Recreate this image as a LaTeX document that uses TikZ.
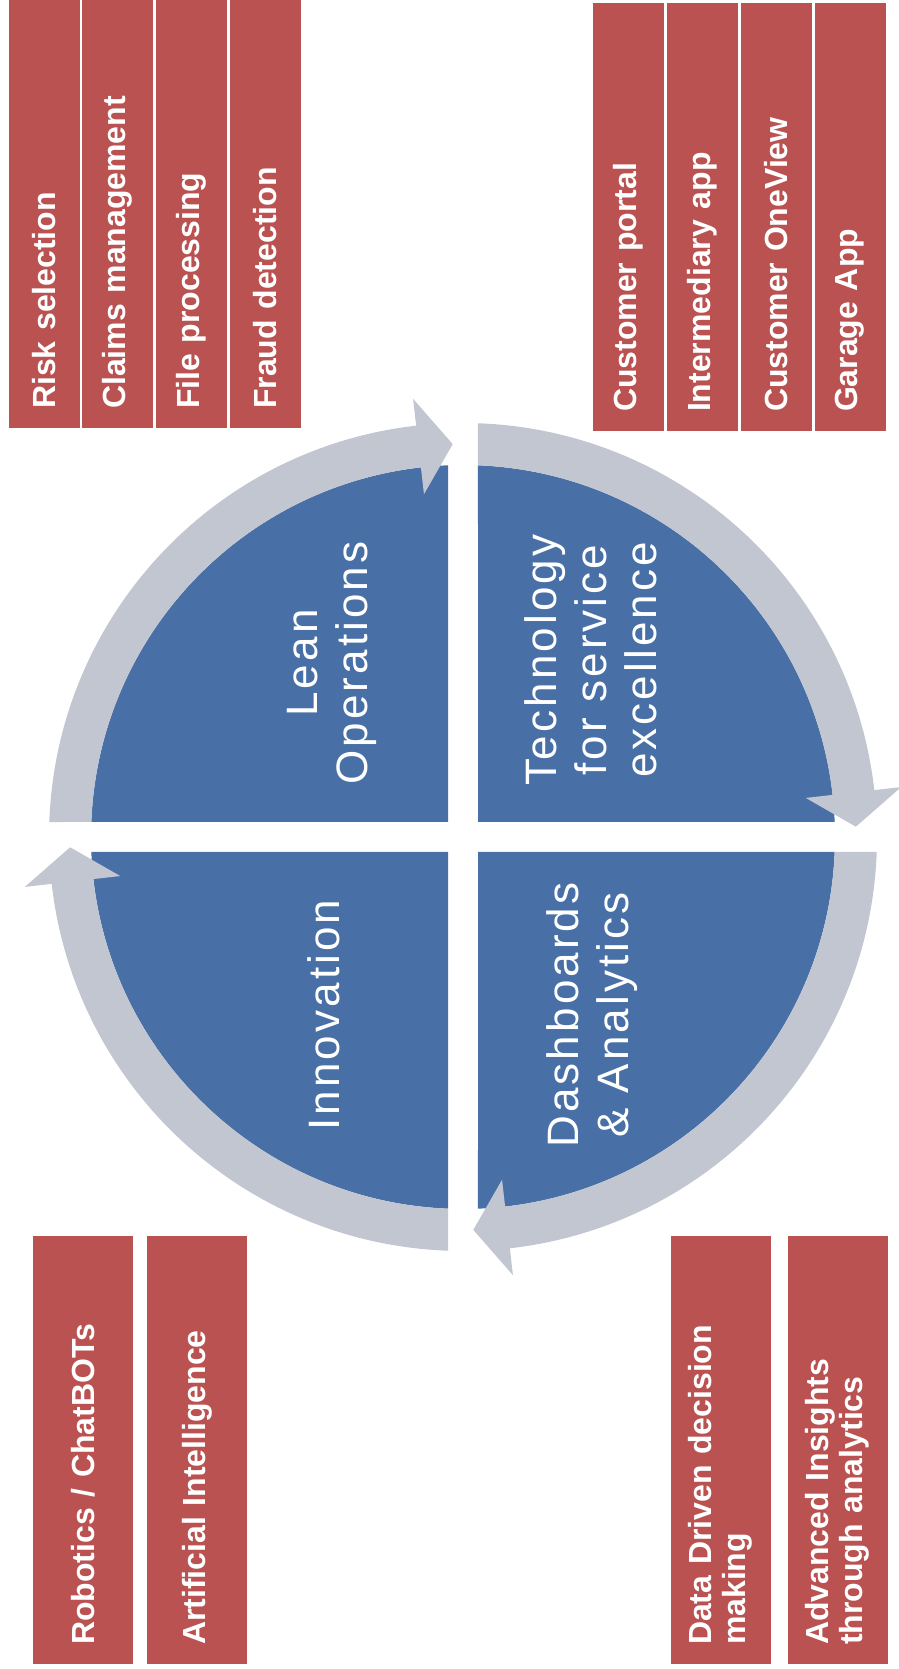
\documentclass[tikz,border=0pt]{standalone}
\usepackage{fontspec}
\setmainfont{Liberation Sans}
\newfontfamily\phasefont[LetterSpace=7]{Liberation Sans}
\usepackage{xcolor}
\definecolor{brick}{RGB}{186,82,82}
\definecolor{steel}{RGB}{72,112,166}
\definecolor{mist}{RGB}{194,198,208}
\newcommand{\quadrantfill}{\fill[steel] (-15,15) -- ({90+asin(15/372)}:372) arc[start angle={90+asin(15/372)}, end angle={180-asin(15/372)}, radius=372] -- cycle;}
\newcommand{\arrowfill}{\fill[mist] ({180-asin(15/414)}:414) arc[start angle={180-asin(15/414)}, end angle=96.5, radius=414] -- (96.5:441) -- (91.5:393) -- (96.5:345) -- (96.5:372) arc[start angle=96.5, end angle={180-asin(15/372)}, radius=372] -- cycle;}
\tikzset{
	task/.style={fill=brick, text=white, rotate=90, align=left, text width=390pt, inner xsep=19pt, inner ysep=0pt, font=\bfseries\fontsize{32}{34}\selectfont},
	toptask/.style={task, minimum height=71pt},
	lowtask/.style={task, minimum height=100pt},
	phase/.style={text=white, rotate=90, align=center, inner sep=0pt, font=\phasefont\fontsize{44}{50}\selectfont}
}

\begin{document}
\begin{tikzpicture}[x=1pt, y=1pt]
		\useasboundingbox (0,0) rectangle (898,1669);
		% lean operations
		\scope[shift={(463,832)}]
			\quadrantfill \arrowfill
		\endscope
		% technology
		\scope[shift={(463,832)}, rotate=-90]
			\quadrantfill \arrowfill
		\endscope
		% dashboards
		\scope[shift={(463,832)}, rotate=-180]
			\quadrantfill \arrowfill
		\endscope
		% innovation
		\scope[shift={(463,832)}, rotate=-270]
			\quadrantfill \arrowfill
		\endscope
		\node[phase] (lean) at (332,1006) {Lean\\Operations};
		\node[phase] (tech) at (591,1009) {Technology\\for service\\excellence};
		\node[phase] (innov) at (324,654) {Innovation};
		\node[phase] (dash) at (592,654) {Dashboards\\\& Analytics};
		% upper left
		\node[toptask] (risk) at (44,1455) {Risk selection};
		\node[toptask] (claims) at (117.5,1455) {Claims management};
		\node[toptask] (files) at (191.5,1455) {File processing};
		\node[toptask] (fraud) at (265.5,1455) {Fraud detection};
		% upper right
		\node[toptask] (portal) at (628,1452) {Customer portal};
		\node[toptask] (interapp) at (702,1452) {Intermediary app};
		\node[toptask] (oneview) at (776,1452) {Customer OneView};
		\node[toptask] (garage) at (850,1452) {Garage App};
		% lower left
		\node[lowtask] (robots) at (83,219) {Robotics / ChatBOTs};
		\node[lowtask] (ai) at (197,219) {Artificial Intelligence};
		% lower right
		\node[lowtask] (datadriven) at (720.5,219) {Data Driven decision\\making};
		\node[lowtask] (insights) at (837.5,219) {Advanced Insights\\through analytics};
	\end{tikzpicture}
\end{document}
